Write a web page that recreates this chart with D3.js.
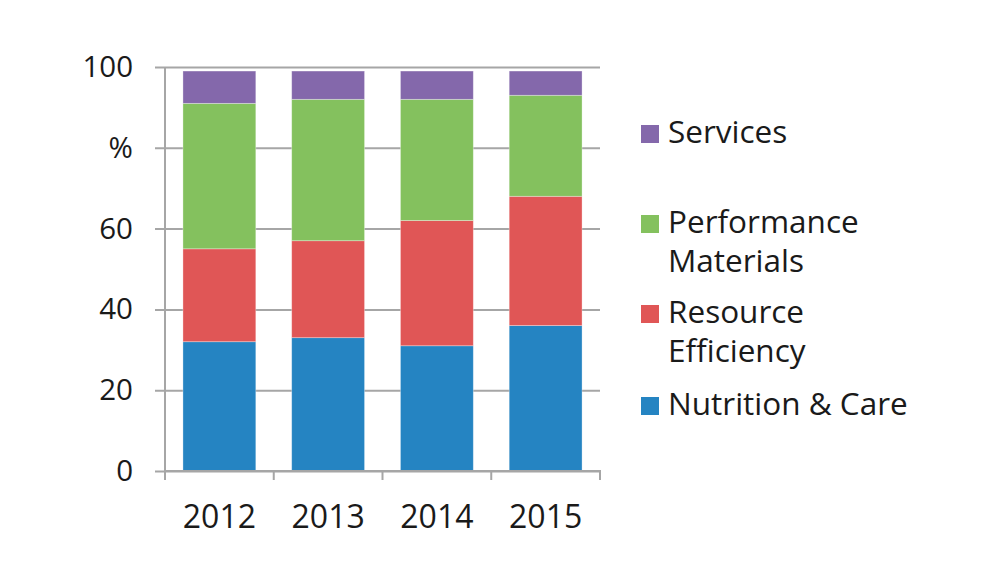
<!DOCTYPE html>
<html>
<head>
<meta charset="utf-8">
<script src="https://cdn.jsdelivr.net/npm/d3@7"></script>
<style>
	body { margin: 0; background: #fff; }
	svg text { font-family: "Open Sans", sans-serif; fill: #1a1a1a; }
</style>
</head>
<body>
<svg></svg>
<script>
const svgWidth = 1000;
const svgHeight = 561;

const years = ["2012", "2013", "2014", "2015"];
const seriesNames = ["Nutrition & Care", "Resource Efficiency", "Performance Materials", "Services"];
const nutritionCare = [32, 33, 31, 36];
const resourceEfficiency = [23, 24, 31, 32];
const performanceMaterials = [36, 35, 30, 25];
const services = [8, 7, 7, 6];
const yTicks = [0, 20, 40, 60, 80, 100];
const yTickLabels = ["0", "20", "40", "60", "%", "100"];
const seriesColors = ["#2584c2", "#e05656", "#84c15e", "#8468ab"];

const plotLeft = 165, plotRight = 600, plotTop = 67, plotBottom = 471;

const svg = d3.select("svg")
				.attr("width", svgWidth)
				.attr("height", svgHeight);

let rows = years.map((y, i) => ({
	year: y,
	"Nutrition & Care": nutritionCare[i],
	"Resource Efficiency": resourceEfficiency[i],
	"Performance Materials": performanceMaterials[i],
	"Services": services[i]
}));
let stacked = d3.stack().keys(seriesNames)(rows);

let xScale = d3.scaleBand()
				.domain(years)
				.range([plotLeft, plotRight])
				.paddingInner(0.33)
				.paddingOuter(0.165);
let yScale = d3.scaleLinear()
				.domain([0, 100])
				.range([plotBottom, plotTop]);

// gridlines + left ticks
let yAxis = d3.axisLeft(yScale)
				.tickValues(yTicks)
				.tickFormat((d, i) => yTickLabels[i])
				.tickSize(-(plotRight - plotLeft))
				.tickPadding(32);
let gy = svg.append("g")
	.attr("transform", `translate(${plotLeft}, 0)`)
	.call(yAxis);
gy.select(".domain").remove();
gy.selectAll(".tick line")
	.attr("x1", -10)
	.attr("stroke", "#a6a6a6")
	.attr("stroke-width", 2);
gy.selectAll(".tick text")
	.attr("font-size", 29.5)
	.attr("fill", "#1a1a1a");

// vertical axis line
svg.append("line")
	.attr("x1", plotLeft).attr("x2", plotLeft)
	.attr("y1", plotTop).attr("y2", plotBottom + 9)
	.attr("stroke", "#a6a6a6")
	.attr("stroke-width", 2);

// bars
svg.append("g")
	.selectAll("g")
	.data(stacked)
	.enter()
	.append("g")
		.attr("fill", (d, i) => seriesColors[i])
	.selectAll("rect")
	.data(d => d)
	.enter()
	.append("rect")
		.attr("x", d => xScale(d.data.year))
		.attr("y", d => yScale(d[1]))
		.attr("width", xScale.bandwidth())
		.attr("height", d => yScale(d[0]) - yScale(d[1]))
		.attr("stroke", "#ffffff")
		.attr("stroke-opacity", 0.4)
		.attr("stroke-width", 0.8);

// x axis
let step = xScale.step();
let xAxis = d3.axisBottom(xScale)
				.tickSize(0)
				.tickPadding(34);
let gx = svg.append("g")
	.attr("transform", `translate(0, ${plotBottom})`)
	.call(xAxis);
gx.select(".domain")
	.attr("d", `M${plotLeft},9V0H${plotRight}V9`)
	.attr("stroke", "#a6a6a6")
	.attr("stroke-width", 2)
	.attr("fill", "none");
gx.selectAll(".tick text")
	.attr("font-size", 32)
	.attr("fill", "#1a1a1a");
gx.selectAll(".sep")
	.data(years.slice(1))
	.enter()
	.append("line")
		.attr("x1", d => xScale(d) - (step - xScale.bandwidth()) / 2)
		.attr("x2", d => xScale(d) - (step - xScale.bandwidth()) / 2)
		.attr("y1", 0)
		.attr("y2", 9)
		.attr("stroke", "#a6a6a6")
		.attr("stroke-width", 2);

// legend
const legendItems = [
	{ lines: ["Services"], color: seriesColors[3], y: 143 },
	{ lines: ["Performance", "Materials"], color: seriesColors[2], y: 233 },
	{ lines: ["Resource", "Efficiency"], color: seriesColors[1], y: 323 },
	{ lines: ["Nutrition & Care"], color: seriesColors[0], y: 415 }
];
let lg = svg.append("g").selectAll("g")
	.data(legendItems)
	.enter()
	.append("g");
lg.append("rect")
	.attr("x", 641)
	.attr("y", d => d.y - 18)
	.attr("width", 18)
	.attr("height", 18)
	.attr("fill", d => d.color);
lg.append("text")
	.attr("x", 668)
	.attr("y", d => d.y)
	.attr("font-size", 31.5)
	.selectAll("tspan")
	.data(d => d.lines)
	.enter()
	.append("tspan")
		.attr("x", 668)
		.attr("dy", (d, i) => i ? 39 : 0)
		.text(d => d);
</script>
</body>
</html>
